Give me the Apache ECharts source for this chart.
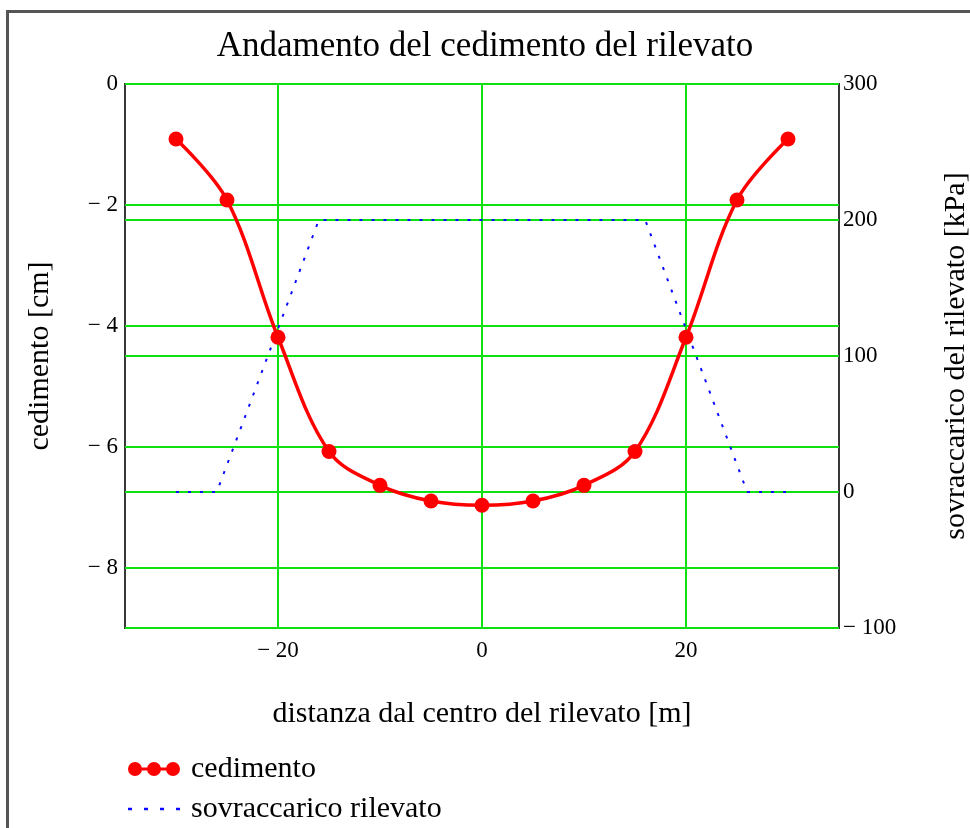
<!DOCTYPE html>
<html>
<head>
<meta charset="utf-8">
<title>Andamento del cedimento del rilevato</title>
<script src="https://cdn.jsdelivr.net/npm/echarts@6/dist/echarts.min.js"></script>
<style>
  html, body { margin: 0; padding: 0; background: #fff; }
  #wrap { position: relative; width: 970px; height: 828px; overflow: hidden; }
  #frame { position: absolute; left: 6px; top: 10px; width: 1000px; height: 900px;
           border-top: 3px solid #555; border-left: 3px solid #555; }
  #main { position: absolute; left: 0; top: 0; width: 970px; height: 828px; }
</style>
</head>
<body>
<div id="wrap">
  <div id="frame"></div>
  <div id="main"></div>
</div>
<script>
// distanza dal centro [m] e cedimento [cm]
const distanze = [-30, -25, -20, -15, -10, -5, 0, 5, 10, 15, 20, 25, 30];
const cedimento = [-0.91, -1.92, -4.19, -6.08, -6.64, -6.90, -6.97, -6.90, -6.64, -6.08, -4.19, -1.92, -0.91];

// sovraccarico del rilevato [kPa]
const caricoX = [-30, -26, -16, 16, 26, 30];
const caricoY = [0, 0, 200, 200, 0, 0];

// tick
const xTicks = [-20, 0, 20];
const yTicksSx = [0, -2, -4, -6, -8];

const font = 'Liberation Serif';
const verde = '#10e010';
const blu = '#0a0aff';

function fmt(v) {
  return v < 0 ? '\u2212 ' + Math.abs(v) : String(v);
}

const chart = echarts.init(document.getElementById('main'), null, { renderer: 'canvas' });

const option = {
  animation: false,
  textStyle: { fontFamily: font, color: '#000' },
  title: {
    text: 'Andamento del cedimento del rilevato',
    left: 'center',
    top: 24,
    textStyle: { fontFamily: font, fontSize: 35, fontWeight: 'normal', color: '#000' }
  },
  grid: {
    left: 125, right: 131, top: 84, bottom: 200,
    outerBoundsMode: 'none',
    show: true, borderColor: '#383838', borderWidth: 2, backgroundColor: 'transparent'
  },
  legend: {
    orient: 'vertical',
    left: 128, top: 754, height: 74,
    padding: 0,
    itemWidth: 52, itemHeight: 14, itemGap: 10,
    textStyle: { fontFamily: font, fontSize: 30, lineHeight: 30, color: '#000', padding: [0, 0, 0, 6] },
    data: [
      {
        name: 'cedimento',
        icon: 'path://M0,7a7,7 0 1,1 14,0a7,7 0 1,1 -14,0Z M19,7a7,7 0 1,1 14,0a7,7 0 1,1 -14,0Z M38,7a7,7 0 1,1 14,0a7,7 0 1,1 -14,0Z M7,5.5L45,5.5L45,8.5L7,8.5Z'
      },
      {
        name: 'sovraccarico rilevato',
        icon: 'path://M0,0L3,0L3,2L0,2Z M12,0L15,0L15,2L12,2Z M24,0L27,0L27,2L24,2Z M36,0L39,0L39,2L36,2Z',
        itemStyle: { color: blu }
      }
    ]
  },
  xAxis: {
    type: 'value',
    min: -35, max: 35,
    name: 'distanza dal centro del rilevato [m]',
    nameLocation: 'middle',
    nameGap: 71,
    nameTextStyle: { fontFamily: font, fontSize: 30, color: '#000' },
    axisLine: { show: false },
    axisTick: { show: false, customValues: xTicks },
    axisLabel: { customValues: xTicks, formatter: fmt, fontFamily: font, fontSize: 23, color: '#000', margin: 11 },
    splitLine: { show: true, lineStyle: { color: verde, width: 2 } }
  },
  yAxis: [
    {
      type: 'value',
      position: 'left',
      min: -9, max: 0,
      name: 'cedimento [cm]',
      nameLocation: 'middle',
      nameGap: 70,
      nameTextStyle: { fontFamily: font, fontSize: 30, color: '#000' },
      axisLine: { show: false },
      axisTick: { show: false, customValues: yTicksSx },
      axisLabel: { customValues: yTicksSx, formatter: fmt, fontFamily: font, fontSize: 23, color: '#000', margin: 7 },
      splitLine: { show: true, lineStyle: { color: verde, width: 2 } }
    },
    {
      type: 'value',
      position: 'right',
      min: -100, max: 300, interval: 100,
      name: 'sovraccarico del rilevato [kPa]',
      nameLocation: 'middle',
      nameGap: 102,
      nameTextStyle: { fontFamily: font, fontSize: 30, color: '#000' },
      axisLine: { show: false },
      axisTick: { show: false },
      axisLabel: { formatter: fmt, fontFamily: font, fontSize: 23, color: '#000', margin: 4 },
      splitLine: { show: true, lineStyle: { color: verde, width: 2 } }
    }
  ],
  series: [
    {
      name: 'sovraccarico rilevato',
      type: 'line',
      yAxisIndex: 1,
      data: caricoX.map((x, i) => [x, caricoY[i]]),
      showSymbol: false,
      symbol: 'none',
      lineStyle: { color: blu, width: 2, type: [3, 9] },
      itemStyle: { color: blu },
      z: 3
    },
    {
      name: 'cedimento',
      type: 'line',
      yAxisIndex: 0,
      data: distanze.map((x, i) => [x, cedimento[i]]),
      smooth: 0.35,
      symbol: 'circle',
      symbolSize: 15,
      lineStyle: { color: '#ff0000', width: 3.5 },
      itemStyle: { color: '#ff0000' },
      z: 4
    }
  ]
};

chart.setOption(option);
</script>
</body>
</html>
